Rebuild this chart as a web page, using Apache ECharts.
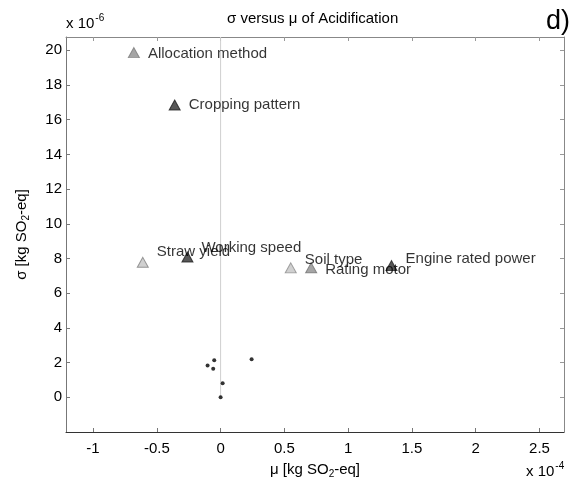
<!DOCTYPE html>
<html>
<head>
<meta charset="utf-8">
<script src="https://cdn.jsdelivr.net/npm/echarts@6/dist/echarts.min.js"></script>
<style>html,body{margin:0;padding:0;background:#fff;}#c{width:584px;height:484px;}</style>
</head>
<body>
<div id="c"></div>
<script>
// Data (mu in units of 1e-4 kg SO2-eq, sigma in units of 1e-6 kg SO2-eq)
const factorNames = ['Allocation method', 'Cropping pattern', 'Straw yield', 'Working speed', 'Soil type', 'Rating motor', 'Engine rated power'];
const factorMu = [-0.68, -0.36, -0.61, -0.26, 0.55, 0.71, 1.34];
const factorSigma = [19.87, 16.85, 7.78, 8.09, 7.46, 7.46, 7.59];
const otherMu = [-0.050, -0.102, -0.058, 0.016, 0.0, 0.243];
const otherSigma = [2.13, 1.83, 1.64, 0.81, 0.0, 2.19];
const xTicks = [-1, -0.5, 0, 0.5, 1, 1.5, 2, 2.5];
const yTicks = [0, 2, 4, 6, 8, 10, 12, 14, 16, 18, 20];
const xRange = [-1.212, 2.692];
const yRange = [-2.0, 20.77];

// styles
const factorFill = ['#8e8e8e', '#2e2e2e', '#c4c4c4', '#2e2e2e', '#c4c4c4', '#8e8e8e', '#2e2e2e'];
const factorEdge = ['#7a7a7a', '#1e1e1e', '#7f7f7f', '#1e1e1e', '#8a8a8a', '#6f6f6f', '#1e1e1e'];
const labelDy = [1, 0, -10, -9, -8, 2, -7];

const FONT = '"Liberation Sans", Arial, sans-serif';
const TXT = '#000';
const chart = echarts.init(document.getElementById('c'), null, {renderer: 'canvas'});

function axisBase(extra) {
  return Object.assign({
    type: 'value',
    splitLine: {show: false},
    axisLine: {show: true, onZero: false, lineStyle: {color: '#666', width: 1}},
    axisTick: {show: true, inside: true, length: 4, lineStyle: {color: '#666'}},
  }, extra);
}

const richName = {
  n: {fontSize: 15, fontFamily: FONT, color: TXT, lineHeight: 18},
  s: {fontSize: 10, fontFamily: FONT, color: TXT, lineHeight: 18, verticalAlign: 'bottom', padding: [8, 0, 0, 0]}
};

const option = {
  backgroundColor: '#fff',
  animation: false,
  textStyle: {fontFamily: FONT},
  grid: {left: 66, right: 20, top: 37, bottom: 52, outerBoundsMode: 'none', containLabel: false},
  xAxis: [
    axisBase({
      min: xRange[0], max: xRange[1], position: 'bottom',
      axisLine: {show: true, onZero: false, lineStyle: {color: '#333', width: 1}},
      axisTick: {show: true, inside: true, length: 4, customValues: xTicks, lineStyle: {color: '#777'}},
      axisLabel: {customValues: xTicks, color: TXT, fontSize: 15, fontFamily: FONT, margin: 9},
      name: '{n|μ [kg SO}{s|2}{n|-eq]}',
      nameLocation: 'middle', nameGap: 28,
      nameTextStyle: {rich: richName}
    }),
    axisBase({
      min: xRange[0], max: xRange[1], position: 'top',
      axisLine: {show: true, onZero: false, lineStyle: {color: '#888', width: 1}},
      axisTick: {show: true, inside: true, length: 4, customValues: xTicks, lineStyle: {color: '#999'}},
      axisLabel: {show: false}
    })
  ],
  yAxis: [
    axisBase({
      min: yRange[0], max: yRange[1], position: 'left',
      axisLine: {show: true, onZero: false, lineStyle: {color: '#777', width: 1}},
      axisTick: {show: true, inside: true, length: 4, customValues: yTicks, lineStyle: {color: '#777'}},
      axisLabel: {customValues: yTicks, color: TXT, fontSize: 15, fontFamily: FONT, margin: 4},
      name: '{n|σ [kg SO}{s|2}{n|-eq]}',
      nameLocation: 'middle', nameGap: 35, nameRotate: 90,
      nameTextStyle: {rich: richName}
    }),
    axisBase({
      min: yRange[0], max: yRange[1], position: 'right',
      axisLine: {show: true, onZero: false, lineStyle: {color: '#888', width: 1}},
      axisTick: {show: true, inside: true, length: 4, customValues: yTicks, lineStyle: {color: '#999'}},
      axisLabel: {show: false}
    })
  ],
  graphic: [
    {type: 'text', left: 227, top: 11, style: {text: 'σ versus μ of Acidification', font: '15px ' + FONT, fill: TXT}},
    {type: 'text', left: 546, top: 8, style: {text: 'd)', font: '27px ' + FONT, fill: TXT}},
    {type: 'text', left: 66, top: 13, style: {
      text: '{n|x 10}{s|-6}', rich: {
        n: {fontSize: 15, fontFamily: FONT, fill: TXT, lineHeight: 18, verticalAlign: 'bottom'},
        s: {fontSize: 10, fontFamily: FONT, fill: TXT, lineHeight: 18, verticalAlign: 'top', padding: [0, 0, 6, 1]}
      }}},
    {type: 'text', left: 526, top: 461, style: {
      text: '{n|x 10}{s|-4}', rich: {
        n: {fontSize: 15, fontFamily: FONT, fill: TXT, lineHeight: 18, verticalAlign: 'bottom'},
        s: {fontSize: 10, fontFamily: FONT, fill: TXT, lineHeight: 18, verticalAlign: 'top', padding: [0, 0, 6, 1]}
      }}}
  ],
  series: [
    {
      type: 'line', xAxisIndex: 0, yAxisIndex: 0,
      data: [[0, 0], [0, yRange[1]]],
      symbol: 'none', silent: true, z: 1,
      lineStyle: {color: '#cfcfcf', width: 1}
    },
    {
      type: 'scatter', xAxisIndex: 0, yAxisIndex: 0, z: 3,
      symbol: 'circle', symbolSize: 4,
      itemStyle: {color: '#000'},
      data: otherMu.map((m, i) => [m, otherSigma[i]])
    },
    {
      type: 'scatter', xAxisIndex: 0, yAxisIndex: 0, z: 4,
      symbol: 'triangle', symbolSize: [11, 10],
      data: factorNames.map((n, i) => ({
        name: n,
        value: [factorMu[i], factorSigma[i]],
        itemStyle: {color: factorFill[i], borderColor: factorEdge[i], borderWidth: 1},
        label: {
          show: true, position: 'right', distance: 8, offset: [0, labelDy[i]],
          formatter: n, fontSize: 15, fontFamily: FONT, color: TXT
        }
      }))
    }
  ]
};
chart.setOption(option);
</script>
</body>
</html>
